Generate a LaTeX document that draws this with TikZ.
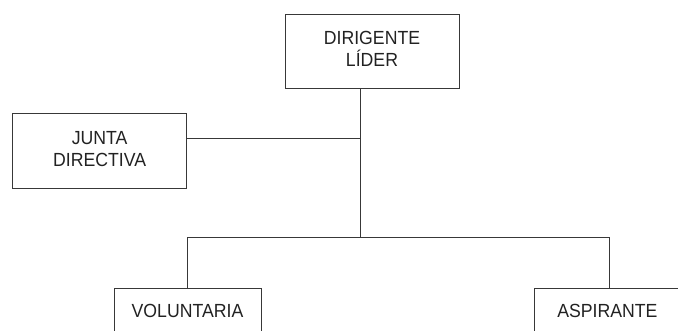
\documentclass[tikz,border=0pt]{standalone}
\usepackage{fontspec}
\setmainfont{Liberation Sans}[FakeStretch=0.93]
\definecolor{linec}{HTML}{383838}
\definecolor{textc}{HTML}{222222}
\begin{document}
\begin{tikzpicture}[x=1pt,y=-1pt,
  box/.style={draw=linec, line width=0.9pt, text=textc, font=\fontsize{19}{22}\selectfont, align=center, inner sep=0pt},
  conn/.style={draw=linec, line width=0.9pt}]
\clip (0,0) rectangle (678,331);
\node[box, minimum width=174pt, text height=52pt, text depth=22pt, anchor=north] (dir) at (372,14) {DIRIGENTE\\LÍDER};
\node[box, minimum width=174pt, text height=53pt, text depth=22pt, anchor=north] (jun) at (99.7,113) {JUNTA\\DIRECTIVA};
\node[box, minimum width=147pt, text height=29pt, text depth=50pt, anchor=north] (vol) at (187.5,288) {VOLUNTARIA};
\node[box, minimum width=146pt, text height=29pt, text depth=50pt, anchor=north west] (asp) at (534,288) {ASPIRANTE};
\coordinate (hub) at (360.7,237.3);
\coordinate (mid) at (360.7,138.3);
\coordinate (rj) at (609,237.3);
\draw[conn] (dir.south -| hub) -- (hub);
\draw[conn] (jun.east |- mid) -- (mid);
\draw[conn] (vol.north) |- (rj) -- (rj |- asp.north);
\end{tikzpicture}
\end{document}
